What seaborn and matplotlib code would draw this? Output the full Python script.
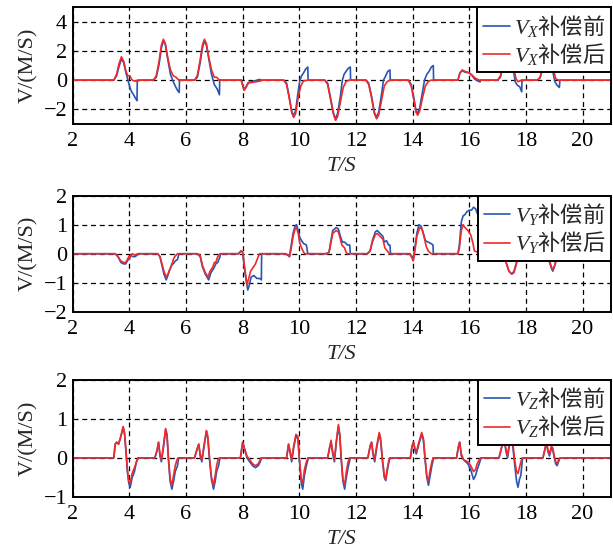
import matplotlib
matplotlib.use("Agg")
import matplotlib.pyplot as plt
import seaborn as sns

# ---------------- data ----------------
# Panel 1: V_X
tx_before = [2.0, 3.45, 3.55, 3.63, 3.72, 3.80, 3.88, 3.95, 4.02, 4.08, 4.15, 4.22, 4.27, 4.28,
             4.85, 4.95, 5.05, 5.13, 5.20, 5.27, 5.35, 5.45, 5.55, 5.62, 5.70, 5.76, 5.77,
             6.30, 6.40, 6.50, 6.58, 6.65, 6.72, 6.80, 6.90, 7.00, 7.10, 7.18, 7.19,
             7.95, 8.05, 8.12, 8.20, 8.35, 8.50, 8.60, 8.65,
             9.45, 9.55, 9.65, 9.73, 9.78, 9.87, 9.95, 10.02, 10.08, 10.15, 10.22, 10.30, 10.31,
             10.90, 11.00, 11.10, 11.20, 11.27, 11.35, 11.45, 11.52, 11.58, 11.65, 11.72, 11.80, 11.81,
             12.35, 12.45, 12.55, 12.65, 12.72, 12.80, 12.90, 12.97, 13.05, 13.12, 13.20, 13.21,
             13.85, 13.95, 14.05, 14.12, 14.17, 14.25, 14.35, 14.42, 14.50, 14.58, 14.66, 14.73, 14.74,
             15.60, 15.67, 15.75, 15.85, 16.00, 16.10, 16.20, 16.30, 16.38, 16.40,
             17.00, 17.10, 17.20, 17.30, 17.38, 17.45, 17.55, 17.62, 17.70, 17.78, 17.85, 17.86,
             18.40, 18.50, 18.60, 18.70, 18.78, 18.85, 18.95, 19.02, 19.10, 19.18, 19.20, 21.0]
vx_before = [0, 0, 0.3, 0.9, 1.45, 1.2, 0.5, 0.0, -0.5, -0.8, -1.0, -1.25, -1.4, 0,
             0, 0.2, 1.1, 2.2, 2.7, 2.45, 1.5, 0.4, -0.1, -0.4, -0.7, -0.85, 0,
             0, 0.2, 1.2, 2.2, 2.7, 2.4, 1.5, 0.4, -0.3, -0.6, -1.0, 0,
             0, -0.65, -0.45, -0.15, -0.1, 0.0, 0.05, 0,
             0, -0.2, -1.2, -2.1, -2.45, -2.1, -0.9, 0.0, 0.3, 0.5, 0.75, 0.9, 0,
             0, -0.2, -1.2, -2.2, -2.65, -2.3, -1.1, 0.0, 0.4, 0.6, 0.8, 0.9, 0,
             0, -0.2, -1.1, -2.2, -2.55, -2.2, -1.0, 0.0, 0.3, 0.6, 0.7, 0,
             0, -0.3, -1.3, -2.1, -2.3, -1.9, -0.8, 0.0, 0.4, 0.6, 0.9, 1.0, 0,
             0, 0.5, 0.65, 0.55, 0.5, 0.3, 0.05, -0.05, -0.12, 0,
             0, 0.2, 1.0, 2.0, 2.5, 2.1, 0.8, -0.1, -0.35, -0.45, -0.8, 0,
             0, 0.15, 0.9, 1.9, 2.4, 2.0, 0.6, -0.1, -0.35, -0.5, 0, 0]
tx_after = [2.0, 3.45, 3.55, 3.63, 3.72, 3.80, 3.88, 3.95, 4.02, 4.08, 4.15, 4.30, 4.40,
            4.85, 4.95, 5.05, 5.13, 5.20, 5.27, 5.35, 5.45, 5.55, 5.65, 5.72, 5.80,
            6.30, 6.40, 6.50, 6.58, 6.65, 6.72, 6.80, 6.90, 7.00, 7.08, 7.15, 7.22,
            7.95, 8.05, 8.12, 8.20, 8.35, 8.50, 8.62, 8.70,
            9.45, 9.55, 9.65, 9.73, 9.80, 9.87, 9.95, 10.05, 10.15, 10.30,
            10.90, 11.00, 11.10, 11.20, 11.28, 11.35, 11.45, 11.55, 11.65, 11.75,
            12.35, 12.45, 12.55, 12.65, 12.73, 12.80, 12.90, 13.00, 13.10, 13.20,
            13.85, 13.95, 14.05, 14.12, 14.18, 14.25, 14.35, 14.45, 14.55, 14.65,
            15.60, 15.67, 15.75, 15.85, 16.00, 16.10, 16.20, 16.35,
            17.00, 17.10, 17.20, 17.30, 17.38, 17.45, 17.55, 17.65, 17.72, 17.85,
            18.40, 18.50, 18.60, 18.70, 18.78, 18.85, 18.95, 19.05, 19.15, 21.0]
vx_after = [0, 0, 0.4, 1.1, 1.6, 1.3, 0.6, 0.3, 0.3, 0.05, -0.05, -0.05, 0,
            0, 0.3, 1.3, 2.4, 2.8, 2.5, 1.6, 0.7, 0.3, 0.2, 0.05, 0,
            0, 0.3, 1.4, 2.4, 2.8, 2.5, 1.6, 0.7, 0.2, 0.2, 0.05, 0,
            0, -0.7, -0.5, -0.2, -0.15, -0.1, -0.05, 0,
            0, -0.3, -1.3, -2.2, -2.55, -2.3, -1.3, -0.4, -0.05, 0,
            0, -0.3, -1.3, -2.3, -2.75, -2.5, -1.5, -0.5, -0.1, 0,
            0, -0.3, -1.2, -2.3, -2.65, -2.4, -1.4, -0.4, -0.1, 0,
            0, -0.4, -1.4, -2.2, -2.4, -2.1, -1.2, -0.4, -0.1, 0,
            0, 0.5, 0.7, 0.6, 0.5, 0.35, 0.15, 0,
            0, 0.3, 1.2, 2.2, 2.6, 2.2, 1.0, 0.1, -0.1, 0,
            0, 0.2, 1.0, 2.0, 2.5, 2.1, 0.9, 0.1, 0, 0]

# Panel 2: V_Y
ty_before = [2.0, 3.50, 3.60, 3.70, 3.80, 3.87, 3.93, 4.00, 4.05, 4.12, 4.20, 4.27, 4.30,
             5.00, 5.08, 5.15, 5.22, 5.30, 5.36, 5.45, 5.50, 5.55, 5.62, 5.70, 5.75,
             6.40, 6.50, 6.58, 6.68, 6.80, 6.88, 6.98, 7.05, 7.12, 7.20, 7.22,
             7.85, 7.95, 8.00, 8.05, 8.12, 8.18, 8.23, 8.30, 8.40, 8.50, 8.60, 8.66, 8.67,
             9.50, 9.60, 9.65, 9.70, 9.78, 9.85, 9.90, 9.96, 10.02, 10.08, 10.15, 10.25, 10.30,
             10.95, 11.05, 11.10, 11.18, 11.30, 11.38, 11.45, 11.52, 11.60, 11.70, 11.78, 11.80,
             12.40, 12.50, 12.58, 12.68, 12.75, 12.85, 12.95, 13.00, 13.08, 13.15, 13.20, 13.22,
             13.90, 13.98, 14.02, 14.08, 14.15, 14.22, 14.30, 14.38, 14.45, 14.55, 14.65, 14.72, 14.73,
             15.60, 15.65, 15.72, 15.78, 15.85, 15.92, 16.00, 16.08, 16.15, 16.22, 16.30, 16.38, 16.50,
             16.60, 16.80, 17.00, 17.15, 17.22, 17.30, 17.40, 17.50, 17.58, 17.65, 17.72, 17.80,
             18.75, 18.82, 18.90, 18.95, 19.00, 19.05, 19.10, 19.20, 19.21, 21.0]
vy_before = [0, 0, -0.1, -0.3, -0.35, -0.35, -0.25, -0.15, -0.05, -0.1, -0.1, -0.05, 0,
             0, -0.1, -0.4, -0.7, -0.9, -0.75, -0.5, -0.35, -0.35, -0.25, -0.2, 0,
             0, -0.1, -0.45, -0.7, -0.9, -0.65, -0.5, -0.35, -0.3, -0.1, 0,
             0, 0.1, 0.05, -0.4, -0.9, -1.25, -1.1, -0.8, -0.75, -0.85, -0.85, -0.9, 0,
             0, -0.05, -0.1, 0.2, 0.7, 0.95, 1.0, 0.8, 0.55, 0.45, 0.35, 0.3, 0,
             0, 0.05, 0.35, 0.8, 0.9, 0.85, 0.6, 0.4, 0.4, 0.3, 0.3, 0,
             0, 0.1, 0.45, 0.75, 0.8, 0.7, 0.6, 0.4, 0.45, 0.3, 0.3, 0,
             0, -0.1, -0.2, 0.2, 0.7, 1.0, 0.95, 0.7, 0.45, 0.4, 0.35, 0.3, 0,
             0, 0.3, 1.1, 1.3, 1.35, 1.45, 1.5, 1.5, 1.6, 1.55, 1.35, 1.6, 1.6,
             1.3, 0.8, 0.3, 0, -0.05, -0.3, -0.6, -0.7, -0.6, -0.35, -0.1, 0,
             0, -0.25, -0.5, -0.6, -0.45, -0.25, -0.15, -0.1, 0, 0]
ty_after = [2.0, 3.50, 3.60, 3.70, 3.80, 3.87, 3.93, 3.98, 4.00, 4.05, 4.10, 4.20, 4.30,
            5.00, 5.08, 5.15, 5.22, 5.30, 5.36, 5.42, 5.50, 5.55, 5.60, 5.65, 5.70,
            6.40, 6.50, 6.58, 6.68, 6.77, 6.85, 6.95, 7.00, 7.05, 7.12, 7.20,
            7.85, 7.95, 8.00, 8.05, 8.10, 8.15, 8.20, 8.28, 8.35, 8.45, 8.55, 8.60,
            9.50, 9.60, 9.65, 9.70, 9.78, 9.85, 9.90, 9.96, 10.02, 10.08, 10.15, 10.20,
            10.95, 11.05, 11.10, 11.18, 11.30, 11.38, 11.45, 11.50, 11.60, 11.65, 11.70,
            12.40, 12.50, 12.58, 12.68, 12.75, 12.85, 12.95, 13.02, 13.10, 13.18,
            13.90, 13.98, 14.02, 14.08, 14.15, 14.25, 14.33, 14.40, 14.48, 14.55, 14.65,
            15.60, 15.65, 15.72, 15.78, 15.85, 15.95, 16.05, 16.12, 16.18, 16.30, 16.40,
            17.15, 17.22, 17.30, 17.40, 17.50, 17.58, 17.65, 17.72, 17.80,
            18.75, 18.82, 18.90, 18.95, 19.00, 19.05, 19.10, 19.15, 19.20, 21.0]
vy_after = [0, 0, -0.1, -0.25, -0.3, -0.3, -0.2, -0.1, -0.2, -0.05, 0.0, -0.05, 0,
            0, -0.1, -0.35, -0.6, -0.8, -0.7, -0.55, -0.4, -0.2, -0.1, -0.05, 0,
            0, -0.05, -0.4, -0.65, -0.8, -0.6, -0.45, -0.3, -0.3, -0.1, 0,
            0, 0.1, 0.05, -0.3, -0.7, -1.05, -0.9, -0.6, -0.5, -0.35, -0.1, 0,
            0, -0.05, -0.1, 0.1, 0.6, 0.85, 0.9, 0.7, 0.35, 0.2, 0.05, 0,
            0, 0.05, 0.3, 0.7, 0.8, 0.75, 0.5, 0.3, 0.2, 0.05, 0,
            0, 0.1, 0.4, 0.65, 0.7, 0.6, 0.5, 0.2, 0.1, 0,
            0, -0.15, -0.25, 0.1, 0.6, 0.9, 0.85, 0.6, 0.25, 0.1, 0,
            0, 0.2, 0.8, 1.0, 0.9, 0.8, 0.65, 0.4, 0.1, 0.05, 0,
            0, -0.05, -0.3, -0.6, -0.7, -0.65, -0.4, -0.15, 0,
            0, -0.2, -0.45, -0.55, -0.45, -0.3, -0.1, -0.05, 0, 0]

# Panel 3: V_Z
tz_after = [2.0, 3.45, 3.50, 3.55, 3.62, 3.70, 3.78, 3.83, 3.88, 3.93, 3.98, 4.03, 4.10, 4.18, 4.25, 4.30,
            4.90, 4.98, 5.03, 5.08, 5.13, 5.20, 5.28, 5.33, 5.38, 5.44, 5.50, 5.56, 5.62, 5.68, 5.72,
            6.30, 6.38, 6.45, 6.50, 6.56, 6.63, 6.72, 6.77, 6.83, 6.90, 6.97, 7.03, 7.08, 7.13, 7.18,
            7.92, 8.00, 8.08, 8.15, 8.25, 8.35, 8.45, 8.55, 8.62, 8.65,
            9.55, 9.62, 9.68, 9.73, 9.80, 9.88, 9.95, 10.00, 10.07, 10.12, 10.18, 10.25, 10.30,
            11.00, 11.08, 11.12, 11.18, 11.24, 11.30, 11.38, 11.43, 11.48, 11.54, 11.60, 11.66, 11.72, 11.78,
            12.42, 12.50, 12.55, 12.60, 12.66, 12.73, 12.82, 12.87, 12.93, 13.00, 13.05, 13.10, 13.15, 13.20,
            13.92, 13.98, 14.03, 14.08, 14.13, 14.22, 14.32, 14.38, 14.44, 14.50, 14.56, 14.62, 14.68, 14.72,
            15.55, 15.62, 15.66, 15.72, 15.80, 15.95, 16.05, 16.15, 16.22, 16.28, 16.35, 16.40,
            17.05, 17.15, 17.22, 17.30, 17.35, 17.42, 17.50, 17.55, 17.60, 17.67, 17.72, 17.77, 17.82, 17.88,
            18.60, 18.68, 18.72, 18.78, 18.83, 18.90, 18.95, 19.00, 19.05, 19.10, 19.15, 19.20, 21.0]
vz_after = [0, 0, 0.35, 0.4, 0.35, 0.55, 0.8, 0.65, 0.2, -0.3, -0.6, -0.65, -0.4, -0.25, -0.1, 0,
            0, 0.2, 0.4, 0.1, -0.05, 0.3, 0.75, 0.6, 0.0, -0.55, -0.7, -0.45, -0.2, -0.05, 0,
            0, 0.2, 0.35, 0.1, -0.05, 0.3, 0.7, 0.55, 0.0, -0.5, -0.7, -0.45, -0.2, -0.05, 0,
            0, 0.4, 0.2, 0.05, -0.05, -0.15, -0.2, -0.15, -0.05, 0,
            0, 0.35, 0.15, -0.05, 0.3, 0.6, 0.55, 0.0, -0.55, -0.65, -0.3, -0.1, 0,
            0, 0.3, 0.45, 0.15, -0.05, 0.4, 0.85, 0.6, 0.0, -0.55, -0.7, -0.35, -0.1, 0,
            0, 0.3, 0.4, 0.15, -0.05, 0.3, 0.65, 0.5, 0.0, -0.45, -0.55, -0.3, -0.1, 0,
            0, 0.3, 0.4, 0.25, 0.15, 0.4, 0.65, 0.5, 0.0, -0.45, -0.6, -0.3, -0.1, 0,
            0, 0.3, 0.4, 0.1, -0.05, -0.1, -0.2, -0.35, -0.3, -0.15, -0.05, 0,
            0, 0.3, 0.55, 0.2, 0.05, 0.4, 0.6, 0.3, -0.05, -0.35, -0.4, -0.25, -0.1, 0,
            0, 0.25, 0.4, 0.2, 0.1, 0.3, 0.25, 0.05, -0.1, -0.15, -0.05, 0, 0]
tz_before = [2.0, 3.45, 3.50, 3.55, 3.62, 3.70, 3.78, 3.83, 3.88, 3.93, 3.98, 4.03, 4.10, 4.18, 4.25, 4.32,
             4.90, 4.98, 5.03, 5.08, 5.13, 5.20, 5.28, 5.33, 5.38, 5.44, 5.50, 5.56, 5.62, 5.70, 5.74,
             6.30, 6.38, 6.45, 6.50, 6.56, 6.63, 6.72, 6.77, 6.83, 6.90, 6.97, 7.03, 7.08, 7.15, 7.20,
             7.92, 8.00, 8.08, 8.15, 8.25, 8.35, 8.45, 8.55, 8.62, 8.67,
             9.55, 9.62, 9.68, 9.73, 9.80, 9.88, 9.95, 10.00, 10.07, 10.12, 10.18, 10.25, 10.32,
             11.00, 11.08, 11.12, 11.18, 11.24, 11.30, 11.38, 11.43, 11.48, 11.54, 11.60, 11.66, 11.72, 11.80,
             12.42, 12.50, 12.55, 12.60, 12.66, 12.73, 12.82, 12.87, 12.93, 13.00, 13.05, 13.10, 13.15, 13.20,
             13.92, 13.98, 14.03, 14.08, 14.13, 14.22, 14.32, 14.38, 14.44, 14.50, 14.56, 14.62, 14.68, 14.74,
             15.55, 15.62, 15.66, 15.72, 15.80, 15.95, 16.05, 16.15, 16.22, 16.28, 16.35, 16.42,
             17.05, 17.15, 17.22, 17.30, 17.35, 17.42, 17.50, 17.55, 17.60, 17.67, 17.72, 17.77, 17.82, 17.88,
             18.60, 18.68, 18.72, 18.78, 18.83, 18.90, 18.95, 19.00, 19.05, 19.10, 19.15, 19.20, 21.0]
vz_before = [0, 0, 0.35, 0.4, 0.35, 0.55, 0.78, 0.6, 0.15, -0.35, -0.65, -0.75, -0.5, -0.35, -0.1, 0,
             0, 0.2, 0.4, 0.05, -0.1, 0.25, 0.72, 0.55, -0.05, -0.6, -0.8, -0.6, -0.35, -0.2, 0,
             0, 0.2, 0.35, 0.05, -0.1, 0.25, 0.68, 0.5, -0.05, -0.55, -0.8, -0.6, -0.35, -0.2, 0,
             0, 0.4, 0.2, 0.0, -0.1, -0.2, -0.25, -0.2, -0.1, 0,
             0, 0.35, 0.1, -0.1, 0.25, 0.55, 0.5, -0.05, -0.65, -0.8, -0.45, -0.2, 0,
             0, 0.3, 0.4, 0.1, -0.1, 0.35, 0.8, 0.55, -0.05, -0.6, -0.8, -0.5, -0.25, 0,
             0, 0.3, 0.4, 0.1, -0.1, 0.25, 0.6, 0.45, -0.05, -0.5, -0.58, -0.35, -0.15, 0,
             0, 0.3, 0.4, 0.2, 0.1, 0.35, 0.6, 0.45, -0.05, -0.5, -0.7, -0.45, -0.2, 0,
             0, 0.3, 0.4, 0.05, -0.05, -0.15, -0.3, -0.55, -0.45, -0.3, -0.15, 0,
             0, 0.3, 0.5, 0.15, 0.0, 0.35, 0.55, 0.2, -0.15, -0.6, -0.75, -0.55, -0.45, 0,
             0, 0.25, 0.4, 0.15, 0.05, 0.25, 0.2, 0.0, -0.15, -0.2, -0.1, 0, 0]

labels_before = [r"$V_X$补偿前", r"$V_Y$补偿前", r"$V_Z$补偿前"]
labels_after = [r"$V_X$补偿后", r"$V_Y$补偿后", r"$V_Z$补偿后"]
ylims = [(-3, 5), (-2, 2), (-1, 2)]
yticks = [[-2, 0, 2, 4], [-2, -1, 0, 1, 2], [-1, 0, 1, 2]]
xticks = [2, 4, 6, 8, 10, 12, 14, 16, 18, 20]

# ---------------- style ----------------
sns.set_style("ticks")
SERIF = "Liberation Serif"
CJK = "Noto Sans CJK SC"
plt.rcParams["font.family"] = [SERIF, CJK]
plt.rcParams["mathtext.fontset"] = "custom"
plt.rcParams["mathtext.rm"] = CJK
plt.rcParams["mathtext.it"] = SERIF + ":italic"
plt.rcParams["mathtext.bf"] = SERIF + ":bold"
plt.rcParams["axes.unicode_minus"] = True

BLUE = "#2756b3"
RED = "#ee2a2a"

fig = plt.figure(figsize=(6.13, 5.51), dpi=100)
positions = [[0.1186, 0.775, 0.878, 0.212],
             [0.1186, 0.434, 0.878, 0.211],
             [0.1186, 0.098, 0.878, 0.213]]

series = [(tx_before, vx_before, tx_after, vx_after),
          (ty_before, vy_before, ty_after, vy_after),
          (tz_before, vz_before, tz_after, vz_after)]

for i, (tb, vb, ta, va) in enumerate(series):
    ax = fig.add_axes(positions[i])
    sns.lineplot(x=tb, y=vb, ax=ax, color=BLUE, linewidth=1.2,
                 estimator=None, sort=False, label=labels_before[i])
    sns.lineplot(x=ta, y=va, ax=ax, color=RED, linewidth=1.2,
                 estimator=None, sort=False, label=labels_after[i])
    ax.set_xlim(2, 21)
    ax.set_ylim(*ylims[i])
    ax.set_xticks(xticks)
    ax.set_yticks(yticks[i])
    ax.grid(True, color="black", linestyle=(0, (4, 3)), linewidth=0.9)
    for s in ax.spines.values():
        s.set_color("black")
        s.set_linewidth(1.4)
    ax.tick_params(axis="both", direction="in", length=0, labelsize=16,
                   colors="black", labelfontfamily=SERIF)
    ax.tick_params(axis="x", pad=6)
    ax.tick_params(axis="y", pad=4)
    ax.set_xlabel("T/S", fontsize=16, style="italic", family=SERIF, labelpad=4)
    ax.set_ylabel("V/(M/S)", fontsize=16, family=SERIF, labelpad=4)
    leg = ax.legend(loc="upper right", prop={"family": CJK, "size": 16},
                    frameon=True, fancybox=False, edgecolor="black",
                    borderaxespad=0, handlelength=1.2, handletextpad=0.2,
                    borderpad=0.25, labelspacing=0.1, framealpha=1)
    leg.get_frame().set_linewidth(1.4)

fig.savefig("out.png", dpi=100)
